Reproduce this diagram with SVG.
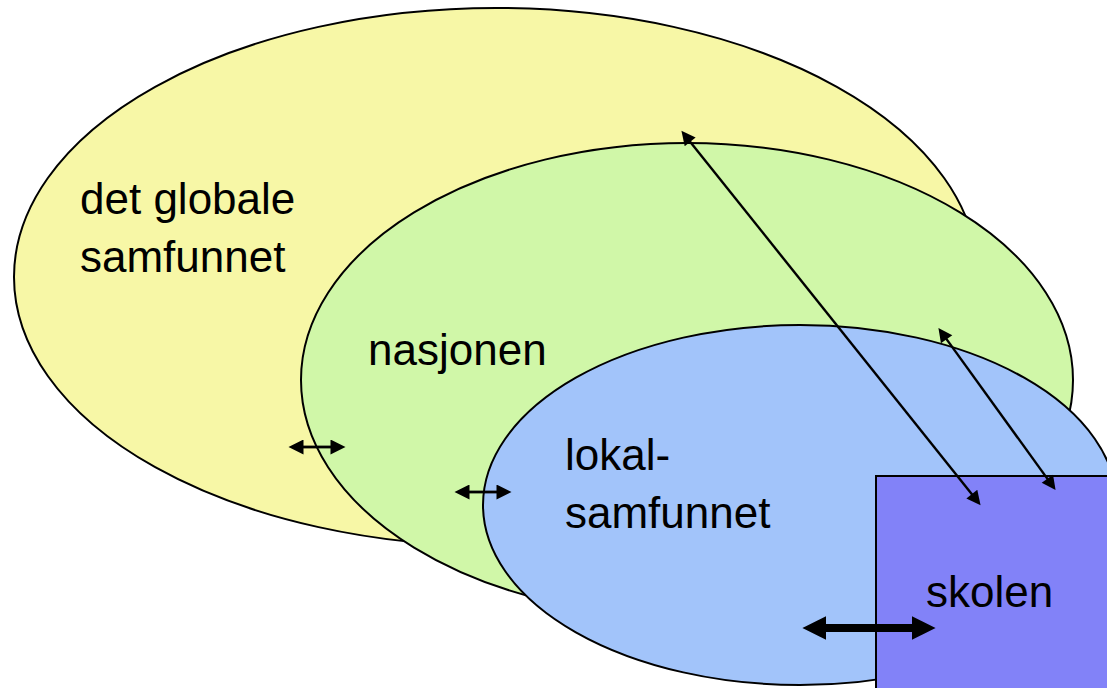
<svg xmlns="http://www.w3.org/2000/svg" width="1107" height="688" viewBox="0 0 1107 688">
<style>
.shape{stroke:#000;stroke-width:2}
.lbl{font-family:"Liberation Sans",Arial,sans-serif;font-size:44px;fill:#000}
.thin{stroke:#000;stroke-width:2.4;fill:none;marker-start:url(#ah);marker-end:url(#ah)}
.small{stroke:#000;stroke-width:2.8;fill:none;marker-start:url(#ahs);marker-end:url(#ahs)}
.thick{stroke:#000;stroke-width:8;fill:none;marker-start:url(#ahb);marker-end:url(#ahb)}
</style>
<defs>
<marker id="ah" viewBox="0 0 10 10" refX="1" refY="5" markerUnits="userSpaceOnUse" markerWidth="16" markerHeight="14" orient="auto-start-reverse">
<path d="M0,0 L10,5 L0,10 Z" fill="#000"/>
</marker>
<marker id="ahs" viewBox="0 0 10 10" refX="1" refY="5" markerUnits="userSpaceOnUse" markerWidth="16" markerHeight="15" orient="auto-start-reverse">
<path d="M0,0 L10,5 L0,10 Z" fill="#000"/>
</marker>
<marker id="ahb" viewBox="0 0 10 10" refX="1" refY="5" markerUnits="userSpaceOnUse" markerWidth="24" markerHeight="24" orient="auto-start-reverse">
<path d="M0,0 L10,5 L0,10 Z" fill="#000"/>
</marker>
</defs>
<rect width="1107" height="688" fill="#fff"/>
<g id="global">
<ellipse class="shape" cx="496" cy="277" rx="482" ry="269" fill="#F7F7A6"/>
<text class="lbl" x="80" y="214">det globale</text>
<text class="lbl" x="80" y="272">samfunnet</text>
</g>
<g id="nasjonen">
<ellipse class="shape" cx="687" cy="380" rx="386" ry="237" fill="#D0F7A8"/>
<text class="lbl" x="368" y="365">nasjonen</text>
</g>
<g id="lokalsamfunnet">
<ellipse class="shape" cx="800" cy="505" rx="317" ry="180" fill="#A2C4FA"/>
<text class="lbl" x="565" y="470">lokal-</text>
<text class="lbl" x="565" y="528">samfunnet</text>
</g>
<g id="skolen">
<rect class="shape" x="876" y="476" width="240" height="230" fill="#8282F8"/>
<text class="lbl" x="926" y="607">skolen</text>
</g>
<g id="connectors">
<line class="thin" x1="689.3" y1="140.7" x2="972.7" y2="495.3"/>
<line class="thin" x1="945.8" y1="338.1" x2="1048.2" y2="479.9"/>
<line class="small" x1="302" y1="447" x2="332" y2="447"/>
<line class="small" x1="468" y1="492" x2="498" y2="492"/>
<line class="thick" x1="824" y1="628" x2="914" y2="628"/>
</g>
</svg>
